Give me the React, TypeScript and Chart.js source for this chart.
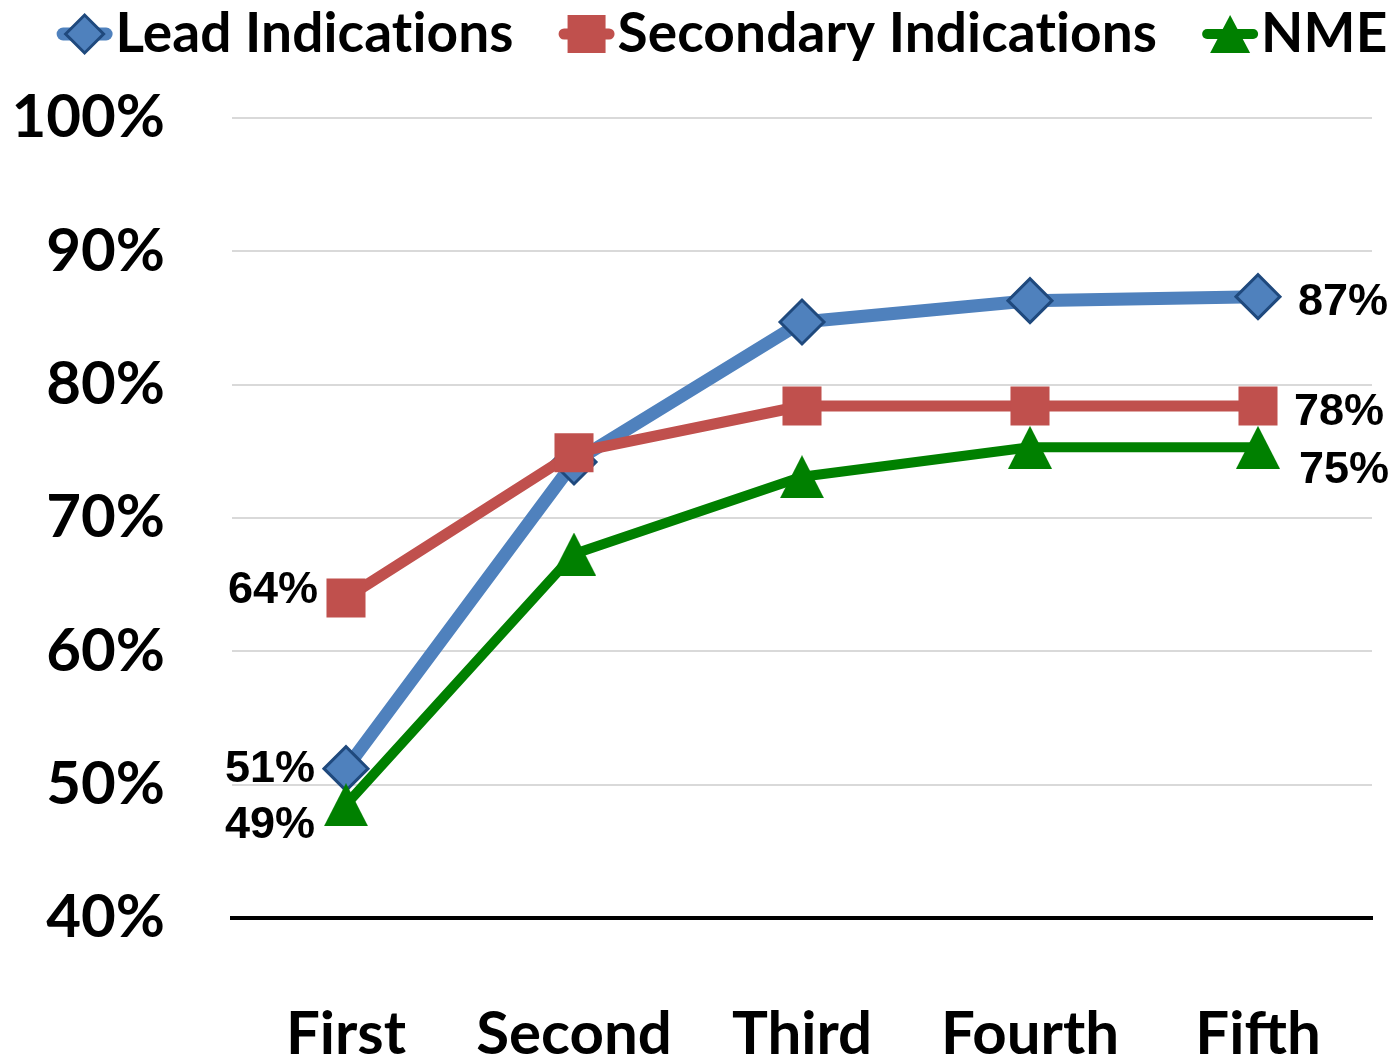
import React, { useEffect, useRef } from 'react';
import { Chart, registerables } from 'chart.js';

Chart.register(...registerables);

// ---------- data ----------
const categories = ['First', 'Second', 'Third', 'Fourth', 'Fifth'];
const seriesNames = ['Lead Indications', 'Secondary Indications', 'NME'];
const leadIndications = [51.2, 74.2, 84.7, 86.3, 86.6];
const secondaryIndications = [64.0, 74.9, 78.4, 78.4, 78.4];
const nmeValues = [48.5, 67.3, 73.1, 75.3, 75.3];
const yTickValues = [40, 50, 60, 70, 80, 90, 100];

// ---------- styles ----------
const BLUE = '#4F81BD';
const BLUE_DARK = '#1F497D';
const RED = '#C0504D';
const GREEN = '#008000';
const AXIS_FONT = 'Lato, "Open Sans", sans-serif';
const LABEL_FONT = '"Liberation Sans", Arial, sans-serif';

function makeTriangle(w: number, h: number, color: string): HTMLCanvasElement {
  const c = document.createElement('canvas');
  c.width = w;
  c.height = h;
  const ctx = c.getContext('2d')!;
  ctx.fillStyle = color;
  ctx.beginPath();
  ctx.moveTo(w / 2, 0);
  ctx.lineTo(w, h);
  ctx.lineTo(0, h);
  ctx.closePath();
  ctx.fill();
  return c;
}

function drawMarker(ctx: CanvasRenderingContext2D, kind: string, x: number, y: number) {
  ctx.save();
  if (kind === 'diamond') {
    const r = 19;
    ctx.beginPath();
    ctx.moveTo(x - r, y);
    ctx.lineTo(x, y - r);
    ctx.lineTo(x + r, y);
    ctx.lineTo(x, y + r);
    ctx.closePath();
    ctx.fillStyle = BLUE;
    ctx.fill();
    ctx.lineWidth = 3;
    ctx.strokeStyle = BLUE_DARK;
    ctx.stroke();
  } else if (kind === 'square') {
    const s = 19;
    ctx.fillStyle = RED;
    ctx.fillRect(x - s, y - s, 2 * s, 2 * s);
  } else {
    const w = 40;
    const h = 38;
    ctx.fillStyle = GREEN;
    ctx.beginPath();
    ctx.moveTo(x, y - h / 2);
    ctx.lineTo(x + w / 2, y + h / 2);
    ctx.lineTo(x - w / 2, y + h / 2);
    ctx.closePath();
    ctx.fill();
  }
  ctx.restore();
}

const legendPlugin = {
  id: 'customLegend',
  afterDraw(chart: any) {
    const ctx: any = chart.ctx;
    const items = [
      { name: seriesNames[0], color: BLUE, lw: 13, kind: 'diamond' },
      { name: seriesNames[1], color: RED, lw: 11, kind: 'square' },
      { name: seriesNames[2], color: GREEN, lw: 10, kind: 'triangle' },
    ];
    ctx.save();
    ctx.font = `bold 55px ${AXIS_FONT}`;
    if ('letterSpacing' in ctx) ctx.letterSpacing = '0.1px';
    const markerW = 56;
    const textGap = 3;
    const itemGap = 45;
    const widths = items.map((it) => ctx.measureText(it.name).width);
    const total =
      widths.reduce((a: number, b: number) => a + b, 0) +
      items.length * (markerW + textGap) +
      itemGap * (items.length - 1);
    const centerX = 722;
    let x = centerX - total / 2;
    const yMid = 34;
    const baseline = 52;
    items.forEach((it, i) => {
      ctx.beginPath();
      ctx.lineCap = 'round';
      ctx.lineWidth = it.lw;
      ctx.strokeStyle = it.color;
      ctx.moveTo(x + it.lw / 2, yMid);
      ctx.lineTo(x + markerW - it.lw / 2, yMid);
      ctx.stroke();
      drawMarker(ctx, it.kind, x + markerW / 2, yMid);
      ctx.fillStyle = '#000';
      ctx.textAlign = 'left';
      ctx.textBaseline = 'alphabetic';
      ctx.fillText(it.name, x + markerW + textGap, baseline);
      x += markerW + textGap + widths[i] + itemGap;
    });
    ctx.restore();
  },
};

// label placement per dataset: [first point dx, baseline dy], [last point dx, baseline dy]
const labelPlacement = [
  { first: [-31, 13], last: [40, 18] },
  { first: [-28, 5], last: [36, 19] },
  { first: [-31, 33], last: [41, 36] },
];

const dataLabelPlugin = {
  id: 'endLabels',
  afterDatasetsDraw(chart: any) {
    const ctx: CanvasRenderingContext2D = chart.ctx;
    ctx.save();
    ctx.font = `bold 45px ${LABEL_FONT}`;
    ctx.fillStyle = '#000';
    ctx.textBaseline = 'alphabetic';
    chart.data.datasets.forEach((ds: any, i: number) => {
      const meta = chart.getDatasetMeta(i);
      const place = labelPlacement[ds.seriesIndex];
      const firstPt = meta.data[0];
      const lastIdx = ds.data.length - 1;
      const lastPt = meta.data[lastIdx];
      ctx.textAlign = 'right';
      ctx.fillText(Math.round(ds.data[0]) + '%', firstPt.x + place.first[0], firstPt.y + place.first[1]);
      ctx.textAlign = 'left';
      ctx.fillText(Math.round(ds.data[lastIdx]) + '%', lastPt.x + place.last[0], lastPt.y + place.last[1]);
    });
    ctx.restore();
  },
};

export default function App() {
  const canvasRef = useRef<HTMLCanvasElement | null>(null);

  useEffect(() => {
    if (!canvasRef.current) return;
    const triangle = makeTriangle(44, 43, GREEN);
    const chart = new Chart(canvasRef.current, {
      type: 'line',
      data: {
        labels: categories,
        datasets: [
          {
            label: seriesNames[0],
            seriesIndex: 0,
            data: leadIndications,
            borderColor: BLUE,
            borderWidth: 13,
            borderJoinStyle: 'round',
            pointStyle: 'rectRot',
            pointRadius: 22,
            pointBackgroundColor: BLUE,
            pointBorderColor: BLUE_DARK,
            pointBorderWidth: 3,
            order: 2,
          },
          {
            label: seriesNames[1],
            seriesIndex: 1,
            data: secondaryIndications,
            borderColor: RED,
            borderWidth: 11,
            borderJoinStyle: 'round',
            pointStyle: 'rect',
            pointRadius: 27.6,
            pointBackgroundColor: RED,
            pointBorderColor: RED,
            pointBorderWidth: 0,
            order: 1,
          },
          {
            label: seriesNames[2],
            seriesIndex: 2,
            data: nmeValues,
            borderColor: GREEN,
            borderWidth: 10,
            borderJoinStyle: 'round',
            pointStyle: triangle,
            pointRadius: 22,
            pointBackgroundColor: GREEN,
            pointBorderColor: GREEN,
            pointBorderWidth: 0,
            order: 0,
          },
        ] as any,
      },
      options: {
        animation: false,
        responsive: true,
        maintainAspectRatio: false,
        layout: { autoPadding: false, padding: { top: 118, right: 17, left: 0, bottom: 0 } },
        plugins: {
          legend: { display: false },
          tooltip: { enabled: false },
          title: { display: false },
        },
        scales: {
          x: {
            type: 'category',
            offset: true,
            grid: { display: false, drawTicks: false },
            border: { display: true, color: '#000', width: 4 },
            ticks: {
              color: '#000',
              font: { family: AXIS_FONT, weight: 'bold', size: 60, lineHeight: '234px' },
              padding: 0,
              maxRotation: 0,
              autoSkip: false,
            },
            afterFit: (s: any) => {
              s.height = 139;
              s.paddingLeft = 0;
              s.paddingRight = 0;
            },
          },
          y: {
            min: 40,
            max: 100,
            afterBuildTicks: (s: any) => {
              s.ticks = yTickValues.map((v) => ({ value: v }));
            },
            grid: {
              color: (c: any) => (c.tick && c.tick.value === 40 ? 'rgba(0,0,0,0)' : '#D9D9D9'),
              lineWidth: 2,
              drawTicks: false,
            },
            border: { display: false },
            ticks: {
              color: '#000',
              font: { family: AXIS_FONT, weight: 'bold', size: 60 },
              padding: 67,
              callback: (v: any) => v + '%',
            },
            afterFit: (s: any) => {
              s.width = 232;
            },
          },
        },
      } as any,
      plugins: [dataLabelPlugin, legendPlugin],
    });
    return () => chart.destroy();
  }, []);

  return (
    <div style={{ position: 'absolute', left: 0, top: 0, width: 1389, height: 1057, background: '#fff' }}>
      <canvas ref={canvasRef} />
    </div>
  );
}
